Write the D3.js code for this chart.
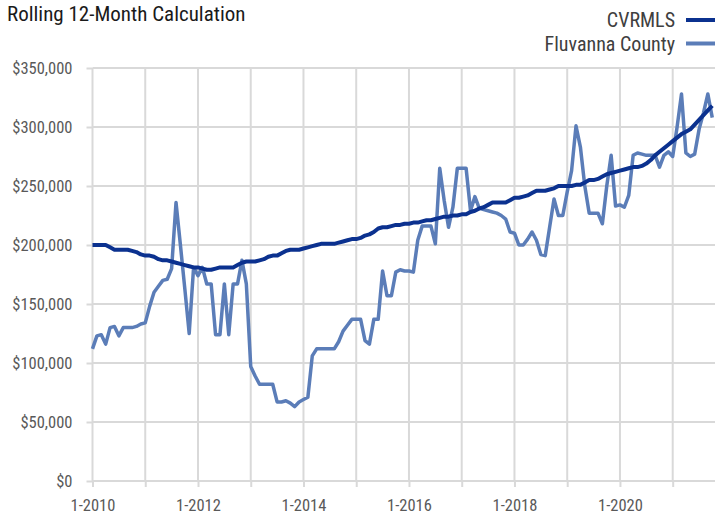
<!DOCTYPE html>
<html>
<head>
<meta charset="utf-8">
<script src="https://cdn.jsdelivr.net/npm/d3@7"></script>
<style>
  body { margin: 0; background: #fff; }
  svg text { font-family: "Liberation Sans Narrow", "Roboto Condensed", "Arial Narrow", sans-serif; }
</style>
</head>
<body>
<div id="rolling_chart"></div>
<script>
// monthly values starting 1-2010 (index 0), in thousands of dollars
const cvrmls = [
  200, 200, 200, 200, 198, 196, 196, 196, 196, 195, 194, 192,
  191, 191, 190, 188, 187, 187, 186, 185, 184, 183, 182, 181,
  181, 180, 179, 179, 180, 181, 181, 181, 181, 183, 185, 186,
  186, 186, 187, 188, 190, 191, 191, 193, 195, 196, 196, 196,
  197, 198, 199, 200, 201, 201, 201, 201, 202, 203, 204, 205,
  205, 206, 208, 209, 211, 214, 215, 215, 216, 217, 217, 218,
  218, 219, 219, 220, 221, 221, 222, 223, 224, 224, 225, 225,
  226, 226, 228, 229, 231, 232, 234, 236, 236, 236, 236, 238,
  240, 240, 241, 242, 244, 246, 246, 246, 247, 248, 250, 250,
  250, 250, 251, 251, 253, 255, 255, 256, 258, 260, 261, 262,
  263, 264, 265, 266, 266, 267, 269, 272, 276, 279, 282, 285,
  288, 291, 294, 296, 298, 302, 306, 310, 314, 318
];
const fluvanna = [
  112, 123, 124, 116, 130, 131, 123, 130, 130, 130, 131, 133,
  134, 148, 160, 165, 170, 171, 180, 236, 200, 163, 125, 181,
  174, 181, 167, 167, 124, 124, 167, 124, 167, 167, 187, 167,
  97, 89, 82, 82, 82, 82, 67, 67, 68, 66, 63, 67,
  69, 71, 106, 112, 112, 112, 112, 112, 118, 127, 132, 137,
  137, 137, 119, 116, 137, 137, 178, 157, 157, 177, 179, 178,
  178, 177, 204, 216, 216, 216, 201, 265, 238, 215, 232, 265,
  265, 265, 229, 241, 231, 230, 229, 228, 227, 225, 222, 211,
  210, 200, 200, 205, 211, 204, 192, 191, 215, 239, 225, 225,
  245, 263, 301, 283, 250, 227, 227, 227, 218, 250, 276, 233,
  234, 232, 242, 276, 278, 277, 276, 276, 276, 266, 276, 279,
  275, 300, 328, 278, 275, 277, 298, 312, 328, 308
];
const seriesNames = ["CVRMLS", "Fluvanna County"];
const seriesColors = ["#0b318f", "#5b7db8"];
const yTicks = [0, 50000, 100000, 150000, 200000, 250000, 300000, 350000];
const xTickMonths = [0, 12, 24, 36, 48, 60, 72, 84, 96, 108, 120, 132];
const xTickLabels = ["1-2010", "", "1-2012", "", "1-2014", "", "1-2016", "", "1-2018", "", "1-2020", ""];

const width = 715, height = 515;
const svg = d3.select("#rolling_chart").append("svg")
    .attr("width", width).attr("height", height);

const x = d3.scaleLinear().domain([0, 132]).range([92.5, 672.7]);
const y = d3.scaleLinear().domain([0, 350000]).range([481, 68]);
const grid = "#d9d9d9";

// horizontal gridlines + y labels
const yAxis = svg.append("g").attr("transform", `translate(${x(0)},0)`)
    .call(d3.axisLeft(y).tickValues(yTicks).tickSize(6).tickPadding(14)
        .tickFormat(d => "$" + d3.format(",")(d)));
yAxis.select(".domain").remove();
yAxis.selectAll(".tick line").attr("stroke", grid).attr("stroke-width", 2);
yAxis.selectAll(".tick text").attr("fill", "#595959").attr("font-size", 16.5);

svg.append("g").selectAll("line").data(yTicks).join("line")
    .attr("x1", x(0)).attr("x2", width)
    .attr("y1", d => y(d)).attr("y2", d => y(d))
    .attr("stroke", grid).attr("stroke-width", 2);

// vertical gridlines + x labels
svg.append("g").selectAll("line").data(xTickMonths).join("line")
    .attr("x1", d => x(d)).attr("x2", d => x(d))
    .attr("y1", y(350000)).attr("y2", y(0))
    .attr("stroke", grid).attr("stroke-width", 2);

const xAxis = svg.append("g").attr("transform", `translate(0,${y(0)})`)
    .call(d3.axisBottom(x).tickValues(xTickMonths).tickSize(6).tickPadding(12)
        .tickFormat((d, i) => xTickLabels[i]));
xAxis.select(".domain").remove();
xAxis.selectAll(".tick line").attr("stroke", grid).attr("stroke-width", 2);
xAxis.selectAll(".tick text").attr("fill", "#595959").attr("font-size", 16.5);

// lines
const line = d3.line().x((d, i) => x(i)).y(d => y(d * 1000));
const plot = svg.append("g");
plot.append("path").datum(fluvanna)
    .attr("fill", "none").attr("stroke", seriesColors[1])
    .attr("stroke-width", 3.5).attr("stroke-linejoin", "round")
    .attr("d", line);
plot.append("path").datum(cvrmls)
    .attr("fill", "none").attr("stroke", seriesColors[0])
    .attr("stroke-width", 4).attr("stroke-linejoin", "round")
    .attr("d", line);

// title
svg.append("text").attr("x", 7).attr("y", 21)
    .attr("font-size", 21).attr("fill", "#1a1a1a")
    .text("Rolling 12-Month Calculation");

// legend
const legend = svg.append("g").selectAll("g").data(seriesNames).join("g")
    .attr("transform", (d, i) => `translate(0,${20 + i * 23.5})`);
legend.append("text").attr("x", 675).attr("y", 7)
    .attr("text-anchor", "end").attr("font-size", 20).attr("fill", "#404040")
    .text(d => d);
legend.append("line").attr("x1", 686).attr("x2", 715)
    .attr("stroke", (d, i) => seriesColors[i]).attr("stroke-width", 4);
</script>
</body>
</html>
